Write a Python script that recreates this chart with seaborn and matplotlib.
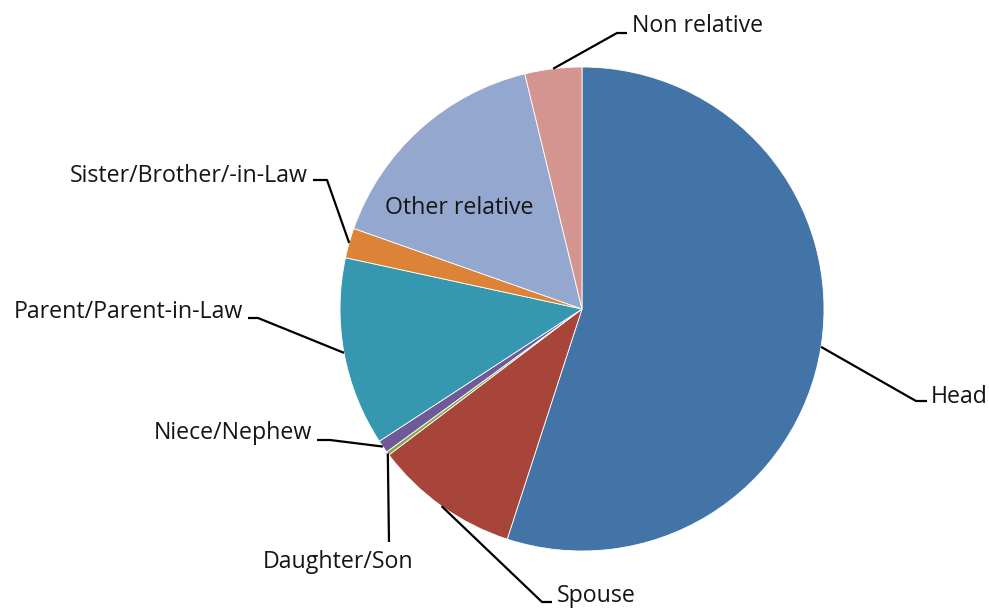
import numpy as np
import matplotlib
matplotlib.use("Agg")
import matplotlib.pyplot as plt
import seaborn as sns

# ------------------------
# DATA
# ------------------------

categories = ["Head", "Spouse", "Daughter/Son", "Niece/Nephew",
              "Parent/Parent-in-Law", "Sister/Brother/-in-Law",
              "Other relative", "Non relative"]
shares = [55.0, 9.7, 0.25, 0.85, 12.6, 2.0, 15.8, 3.8]

slice_colors = ["#4274a8", "#a8453b", "#86a84a", "#6f5996",
                "#3598b0", "#dc8337", "#94a8cf", "#d49591"]

# ------------------------
# LAYOUT (pixel coords, origin top-left)
# ------------------------

W, H = 989, 609
pie_cx, pie_cy, pie_r = 582, 309, 242

# text anchor x, baseline y, ha, leader elbow (x, y) and horizontal end x
label_layout = {
    "Head": (931, 403, "left", (916, 401), 927),
    "Spouse": (557, 602, "left", (542, 602), 552),
    "Daughter/Son": (338, 568, "center", (389, 542), 389),
    "Niece/Nephew": (312, 439, "right", (330, 440), 317),
    "Parent/Parent-in-Law": (243, 318, "right", (258, 318), 248),
    "Sister/Brother/-in-Law": (308, 182, "right", (327, 180), 313),
    "Other relative": (459, 214, "center", None, None),
    "Non relative": (632, 32, "left", (617, 33), 627),
}


def flip(y):
    return H - y


sns.set_theme(style="white")
plt.rcParams["font.family"] = ["Open Sans", "DejaVu Sans"]

fig = plt.figure(figsize=(W / 100, H / 100), dpi=100)
ax = fig.add_axes([0, 0, 1, 1])

palette = sns.color_palette(slice_colors)
wedges, _ = ax.pie(shares, colors=palette, startangle=90, counterclock=False,
                   center=(pie_cx, flip(pie_cy)), radius=pie_r,
                   wedgeprops=dict(edgecolor="white", linewidth=0.6))

ax.set_xlim(0, W)
ax.set_ylim(0, H)
ax.set_aspect("equal")
ax.axis("off")

for wedge, name in zip(wedges, categories):
    tx, ty, ha, elbow, hend = label_layout[name]
    ax.text(tx, flip(ty), name, ha=ha, va="baseline", fontsize=16.7,
            color="#151515")
    if elbow is None:
        continue
    mid = np.deg2rad((wedge.theta1 + wedge.theta2) / 2)
    rim_x = pie_cx + pie_r * np.cos(mid)
    rim_y = flip(pie_cy) + pie_r * np.sin(mid)
    xs = [rim_x, elbow[0], hend]
    ys = [rim_y, flip(elbow[1]), flip(elbow[1])]
    ax.plot(xs, ys, color="black", linewidth=1.6, solid_capstyle="butt")

fig.savefig("out.png", dpi=100)
